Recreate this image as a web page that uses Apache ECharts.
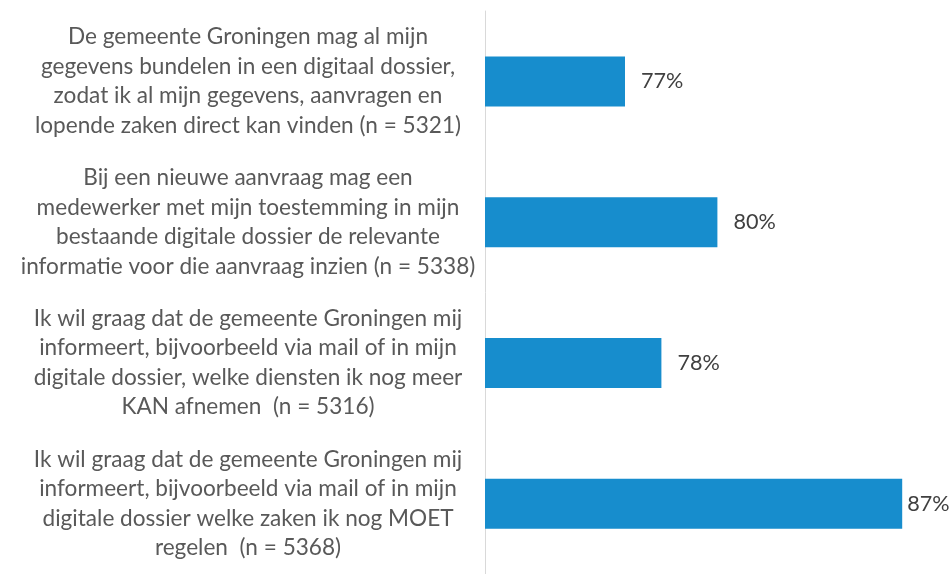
<!DOCTYPE html>
<html lang="nl" style="height: 100%">
<head>
  <meta charset="utf-8">
</head>
<body style="height: 100%; margin: 0; background: #fff">
  <div id="container" style="width: 951px; height: 574px"></div>
  <script type="text/javascript" src="https://cdn.jsdelivr.net/npm/echarts@6/dist/echarts.min.js"></script>
  <script type="text/javascript">
    // stellingen (categorieën), van boven naar beneden
    var categories = [
      'De gemeente Groningen mag al mijn\ngegevens bundelen in een digitaal dossier,\nzodat ik al mijn gegevens, aanvragen en\nlopende zaken direct kan vinden (n = 5321)',
      'Bij een nieuwe aanvraag mag een\nmedewerker met mijn toestemming in mijn\nbestaande digitale dossier de relevante\ninformatie voor die aanvraag inzien (n = 5338)',
      'Ik wil graag dat de gemeente Groningen mij\ninformeert, bijvoorbeeld via mail of in mijn\ndigitale dossier, welke diensten ik nog meer\nKAN afnemen  (n = 5316)',
      'Ik wil graag dat de gemeente Groningen mij\ninformeert, bijvoorbeeld via mail of in mijn\ndigitale dossier welke zaken ik nog MOET\nregelen  (n = 5368)'
    ];
    // percentage eens (geschat uit de balklengte, label afgerond)
    var values = [77.0, 80.3, 78.3, 86.9];

    var dom = document.getElementById('container');
    var myChart = echarts.init(dom, null, { renderer: 'canvas' });

    var option = {
      animation: false,
      grid: {
        left: 485,
        right: 18,
        top: 11,
        bottom: -5,
        containLabel: false
      },
      xAxis: {
        type: 'value',
        min: 72,
        max: 88,
        show: false
      },
      yAxis: {
        type: 'category',
        inverse: true,
        data: categories,
        axisLine: { show: true, lineStyle: { color: '#d9d9d9', width: 1 } },
        axisTick: { show: false },
        axisLabel: {
          align: 'center',
          margin: 237,
          fontSize: 22.6,
          lineHeight: 29.5,
          fontFamily: 'Lato',
          color: '#595959'
        }
      },
      series: [
        {
          type: 'bar',
          barWidth: 50,
          data: values.map(function (v, i) {
            return i === values.length - 1 ? { value: v, label: { distance: 5 } } : v;
          }),
          itemStyle: { color: '#178dcd' },
          label: {
            show: true,
            position: 'right',
            distance: 16,
            fontSize: 21.6,
            fontFamily: 'Lato',
            color: '#404040',
            formatter: function (p) { return Math.round(p.value) + '%'; }
          }
        }
      ]
    };

    myChart.setOption(option);
    window.addEventListener('resize', myChart.resize);
  </script>
</body>
</html>
